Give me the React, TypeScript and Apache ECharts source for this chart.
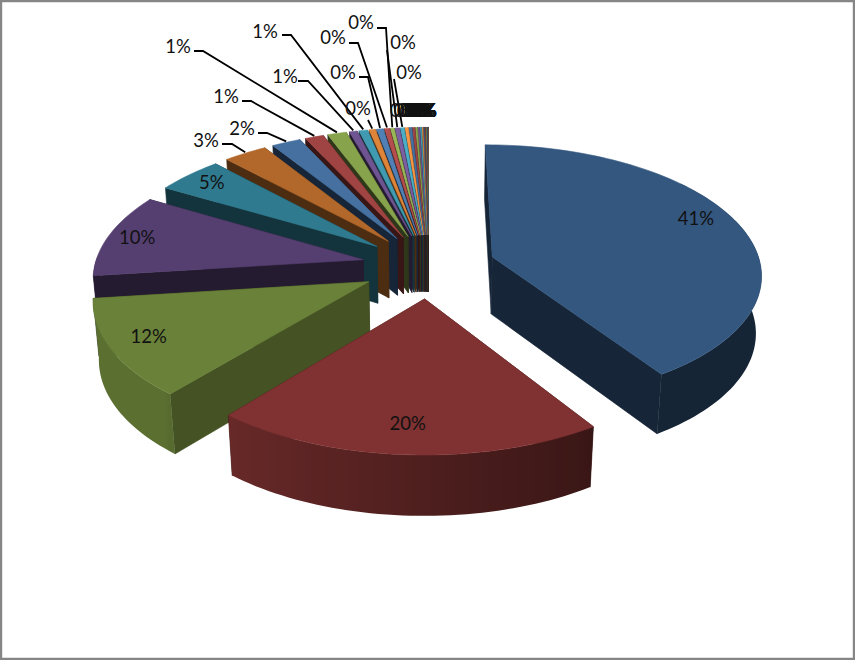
import React, { useEffect, useRef } from "react";
import * as echarts from "echarts";

// Share of each slice (percent), clockwise from the top.
const sliceValues = [
  40.8, 20.2, 12, 10.4, 4.6, 3, 2, 1.28, 1.3, 0.53, 0.58, 0.42, 0.44, 0.33, 0.25, 0.3, 0.25, 0.22,
  0.19, 0.16, 0.14, 0.12, 0.1, 0.08, 0.07, 0.06, 0.05, 0.04, 0.03, 0.02, 0.01, 0.01, 0.01,
];
const paletteDark = ["#34577F", "#7F3231", "#6A8139", "#553F71", "#2F7A8E", "#B2682A"];
const cycleBrightness = [1, 1.2, 1.32, 1.2, 1.1, 1.0];

// Label placement for the slices whose labels sit outside the pie.
const outsideLabels = [
  { slice: 5, x: 206, y: 140, route: [[222, 144], [232, 144]] },
  { slice: 6, x: 242, y: 128, route: [[258, 133], [267, 133]] },
  { slice: 7, x: 226, y: 96, route: [[242, 101], [251, 101]] },
  { slice: 8, x: 178, y: 46, route: [[194, 51], [203, 51]] },
  { slice: 9, x: 285, y: 76, route: [[298, 81], [308, 81]] },
  { slice: 10, x: 265, y: 31, route: [[282, 35], [291, 35]] },
  { slice: 11, x: 358, y: 108, route: [[368, 120]] },
  { slice: 12, x: 343, y: 72, route: [[359, 77], [368, 77]] },
  { slice: 13, x: 333, y: 37, route: [[349, 43], [358, 43]] },
  { slice: 14, x: 361, y: 22, route: [[377, 28], [386, 28]] },
  { slice: 15, x: 403, y: 42, route: [[387, 50]] },
  { slice: 16, x: 409, y: 72, route: [[394, 79]] },
];
const insideLabelNudge = [[7, -6], [3, 4], [-6, 4], [-12, 2], [-4, -1]];

const W = 855;
const H = 660;
const CX = 428.5;
const CY = 266;
const SCALE_X = 268.5;
const SCALE_Y = 128;
const PERSPECTIVE = 0.123;
const DEPTH = 59;
const DEPTH_PERSPECTIVE_X = 0.017;
const DEPTH_PERSPECTIVE_Y = 0.03;
const EXPLODE = 0.25;
const FONT = "Lato";
const FONT_SIZE = 18.5;

const total = sliceValues.reduce((s, v) => s + v, 0);
const boundaries: number[] = [0];
sliceValues.forEach((v, i) => boundaries.push(boundaries[i] + (v / total) * 360));
const rad = (d: number) => (d * Math.PI) / 180;

function project(u: number, v: number, h: number): number[] {
  const w = 1 - PERSPECTIVE * v;
  return [
    CX + (SCALE_X * u) / (w + DEPTH_PERSPECTIVE_X * h),
    CY + (SCALE_Y * v + DEPTH * h) / (w + DEPTH_PERSPECTIVE_Y * h),
  ];
}
function planePoint(i: number, theta: number, r: number): number[] {
  const mid = rad((boundaries[i] + boundaries[i + 1]) / 2);
  return [
    EXPLODE * Math.sin(mid) + r * Math.sin(rad(theta)),
    -EXPLODE * Math.cos(mid) - r * Math.cos(rad(theta)),
  ];
}
function at(i: number, theta: number, r: number, h: number) {
  const p = planePoint(i, theta, r);
  return project(p[0], p[1], h);
}
function shade(hex: string, f: number): string {
  const n = parseInt(hex.slice(1), 16);
  const ch = [(n >> 16) & 255, (n >> 8) & 255, n & 255].map((c) =>
    Math.min(255, Math.round(f <= 1 ? c * f : c * f + (f - 1) * 40))
  );
  return `rgb(${ch[0]},${ch[1]},${ch[2]})`;
}
function sliceColor(i: number): string {
  return shade(paletteDark[i % 6], cycleBrightness[Math.floor(i / 6)]);
}
function wallShade(theta: number): number {
  if (theta >= 263) return 0.43;
  if (theta >= 220) return 0.86;
  if (theta <= 147) return 0.42;
  return 0.45 + ((theta - 147) / 73) * 0.37;
}
function faceShade(theta: number): number {
  const normal = theta - 90;
  if (normal < 172 && normal > 100) return 0.45 + ((172 - normal) / 43) * 0.19;
  return 0.43;
}

function renderSlice(_: any, api: any) {
  const i = api.value(0);
  const a0 = boundaries[i];
  const a1 = boundaries[i + 1];
  const base = sliceColor(i);
  const dark = paletteDark[i % 6];
  const steps = Math.max(1, Math.ceil((a1 - a0) / 1.5));
  const rimAngles: number[] = [];
  for (let s = 0; s <= steps; s++) rimAngles.push(a0 + ((a1 - a0) * s) / steps);
  const children: any[] = [];
  const poly = (points: number[][], fill: any, stroke?: string) =>
    children.push({
      type: "polygon",
      shape: { points },
      style: { fill, stroke: stroke ?? fill, lineWidth: 0.6 },
    });
  poly([at(i, a1, 0, 0), at(i, a1, 1, 0), at(i, a1, 1, 1), at(i, a1, 0, 1)], shade(dark, 0.43));
  poly([at(i, a0, 0, 0), at(i, a0, 1, 0), at(i, a0, 1, 1), at(i, a0, 0, 1)], shade(dark, faceShade(a0)));
  // Outer wall: only the part that can be seen from the viewer's side.
  const front = rimAngles.filter((t) => t >= 50 && t <= 272);
  if (front.length > 1) {
    const upper = front.map((t) => at(i, t, 1, 0));
    const lower = front.map((t) => at(i, t, 1, 1));
    const outline = [...upper, ...lower.slice().reverse()];
    const xs = outline.map((p) => p[0]);
    const xMin = Math.min(...xs);
    const xMax = Math.max(...xs);
    const stops = front
      .map((t, k) => ({
        offset: Math.max(0, Math.min(1, (upper[k][0] - xMin) / (xMax - xMin))),
        color: shade(dark, wallShade(t)),
      }))
      .sort((p, q) => p.offset - q.offset);
    const fill = { type: "linear", x: 0, y: 0, x2: 1, y2: 0, colorStops: stops };
    children.push({ type: "polygon", shape: { points: outline }, style: { fill } });
  }
  poly([at(i, a0, 0, 0), ...rimAngles.map((t) => at(i, t, 1, 0))], base);
  return { type: "group", children };
}

function renderLabel(_: any, api: any) {
  const i = api.value(0);
  const text = `${Math.round((sliceValues[i] / total) * 100)}%`;
  const mid = (boundaries[i] + boundaries[i + 1]) / 2;
  const children: any[] = [];
  const label = (x: number, y: number) =>
    children.push({
      type: "text",
      style: {
        text,
        x,
        y,
        textAlign: "center",
        textVerticalAlign: "middle",
        fontFamily: FONT,
        fontSize: FONT_SIZE,
        fill: "#111",
      },
    });
  if (i < 5) {
    const p = at(i, mid, 0.82, 0);
    label(p[0] - 5 + insideLabelNudge[i][0], p[1] - 4 + insideLabelNudge[i][1]);
  } else {
    const spec = outsideLabels.find((o) => o.slice === i);
    if (spec) {
      const end = at(i, mid, 1, 0);
      children.push({
        type: "polyline",
        shape: { points: [...spec.route, [end[0], end[1] - 1]] },
        style: { stroke: "#000", lineWidth: 1.8, fill: "none" },
      });
      label(spec.x, spec.y);
    } else {
      label(at(i, mid, 1, 0)[0] - 4, 110);
    }
  }
  return { type: "group", children };
}

const drawOrder = [0, ...sliceValues.map((_, i) => sliceValues.length - 1 - i).filter((i) => i >= 2), 1];

export default function App() {
  const ref = useRef<HTMLDivElement>(null);
  useEffect(() => {
    document.body.style.margin = "0";
    const chart = echarts.init(ref.current!, undefined, { renderer: "svg", width: W, height: H });
    chart.setOption({
      animation: false,
      backgroundColor: "#fff",
      graphic: [
        {
          type: "rect",
          z: 50,
          shape: { x: 1, y: 1, width: W - 2, height: H - 2 },
          style: { fill: "none", stroke: "#868686", lineWidth: 2.4 },
        },
      ],
      series: [
        {
          type: "custom",
          coordinateSystem: "none",
          silent: true,
          renderItem: renderSlice,
          data: drawOrder.map((i) => [i, sliceValues[i]]),
          z: 2,
        },
        {
          type: "custom",
          coordinateSystem: "none",
          silent: true,
          renderItem: renderLabel,
          data: sliceValues.map((v, i) => [i, v]),
          z: 3,
        },
      ],
    });
    return () => chart.dispose();
  }, []);
  return <div ref={ref} style={{ position: "absolute", left: 0, top: 0, width: W, height: H }} />;
}
